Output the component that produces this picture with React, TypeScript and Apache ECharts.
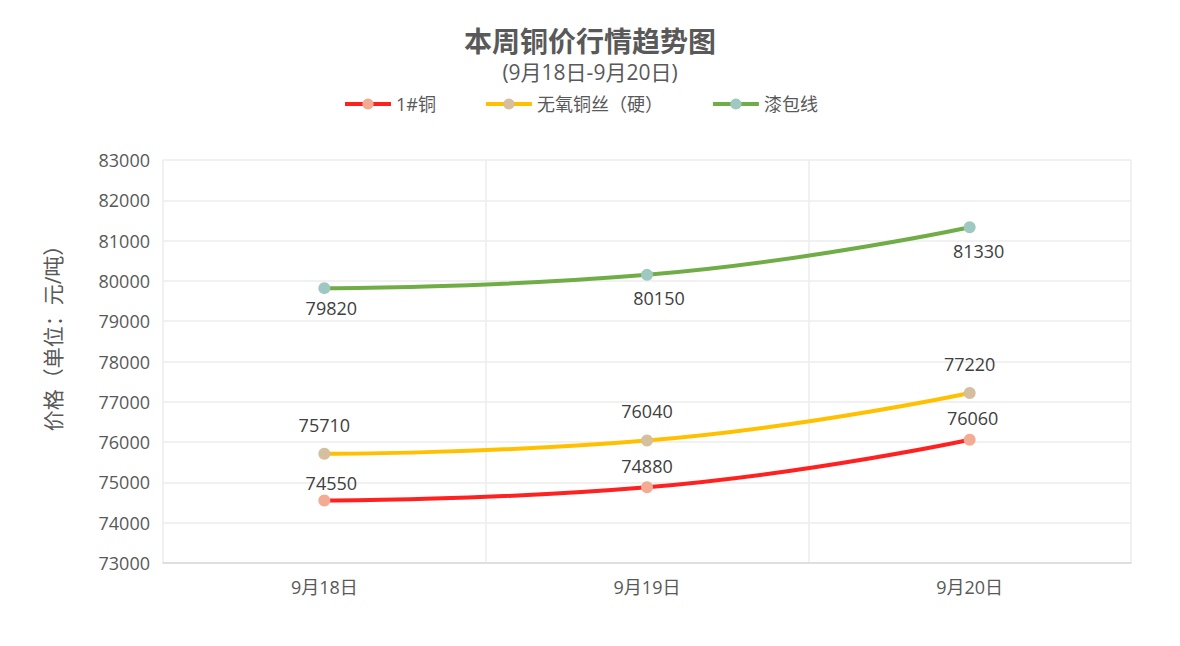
import React, { useEffect, useRef } from "react";
import * as echarts from "echarts";

const categories = ["9月18日", "9月19日", "9月20日"];
const copper1 = [74550, 74880, 76060];
const oxygenFree = [75710, 76040, 77220];
const enamelled = [79820, 80150, 81330];
const seriesNames = ["1#铜", "无氧铜丝（硬）", "漆包线"];
const chartTitle = "本周铜价行情趋势图";
const chartSubtitle = "(9月18日-9月20日)";
const yAxisTitle = "价格（单位：元/吨）";

// label placement offsets (style only), [dx, dy] from each point's centre
const copper1LabelOffsets = [[7, -18], [0, -21], [3, -22]];
const oxygenFreeLabelOffsets = [[0, -29], [0, -29], [0, -29]];
const enamelledLabelOffsets = [[7, 20], [12, 23], [9, 24]];

const FONT = "'Open Sans', 'Noto Sans CJK SC', sans-serif";

export default function App() {
  const ref = useRef<HTMLDivElement>(null);
  useEffect(() => {
    if (!ref.current) return;
    const chart = echarts.init(ref.current, null, { renderer: "svg" });
    const mk = (
      name: string,
      values: number[],
      offsets: number[][],
      lineColor: string,
      dotColor: string
    ) => ({
      name,
      type: "line",
      smooth: true,
      data: values.map((v, i) => ({
        value: v,
        label: { offset: offsets[i] },
      })),
      symbol: "circle",
      symbolSize: 12,
      lineStyle: { color: lineColor, width: 4 },
      itemStyle: { color: dotColor },
      color: lineColor,
      label: {
        show: true,
        position: "inside",
        color: "#404040",
        fontSize: 18,
        fontFamily: FONT,
      },
    });
    chart.setOption({
      animation: false,
      textStyle: { fontFamily: FONT },
      title: [
        {
          text: chartTitle,
          left: "center",
          top: 27,
          padding: 0,
          textStyle: {
            fontSize: 28,
            lineHeight: 28,
            fontWeight: "bold",
            color: "#595959",
            fontFamily: FONT,
          },
        },
        {
          text: chartSubtitle,
          left: "center",
          top: 61,
          padding: 0,
          textStyle: {
            fontSize: 21,
            lineHeight: 21,
            fontWeight: "normal",
            color: "#595959",
            fontFamily: FONT,
          },
        },
      ],
      legend: {
        top: 95,
        left: 343,
        padding: 0,
        itemWidth: 46,
        itemHeight: 14,
        itemGap: 48,
        textStyle: { fontSize: 18, color: "#595959", fontFamily: FONT },
        lineStyle: { width: 4 },
        data: seriesNames,
      },
      graphic: [
        {
          type: "text",
          x: 53,
          y: 333,
          rotation: Math.PI / 2,
          style: {
            text: yAxisTitle,
            fontSize: 21,
            fill: "#595959",
            fontFamily: FONT,
            align: "center",
            verticalAlign: "middle",
          },
        },
      ],
      grid: { left: 163, right: 49, top: 160, bottom: 83, containLabel: false },
      xAxis: {
        type: "category",
        data: categories,
        boundaryGap: true,
        axisLine: { lineStyle: { color: "#d9d9d9", width: 1.5 } },
        axisTick: { show: false },
        axisLabel: { color: "#595959", fontSize: 18, margin: 15, fontFamily: FONT },
        splitLine: { show: true, lineStyle: { color: "#ececec", width: 1.5 } },
      },
      yAxis: {
        type: "value",
        min: 73000,
        max: 83000,
        interval: 1000,
        axisLine: { show: false },
        axisTick: { show: false },
        axisLabel: {
          color: "#595959",
          fontSize: 18,
          margin: 13,
          fontFamily: FONT,
          formatter: (v: number) => String(v),
        },
        splitLine: { lineStyle: { color: "#ececec", width: 1.5 } },
      },
      series: [
        mk(seriesNames[0], copper1, copper1LabelOffsets, "#ff2020", "#f4ab93"),
        mk(seriesNames[1], oxygenFree, oxygenFreeLabelOffsets, "#ffc000", "#d5bf9e"),
        mk(seriesNames[2], enamelled, enamelledLabelOffsets, "#70ad47", "#9fc8c0"),
      ],
    });
    return () => chart.dispose();
  }, []);
  return <div ref={ref} style={{ width: 1180, height: 646, position: "absolute", left: 0, top: 0 }} />;
}
